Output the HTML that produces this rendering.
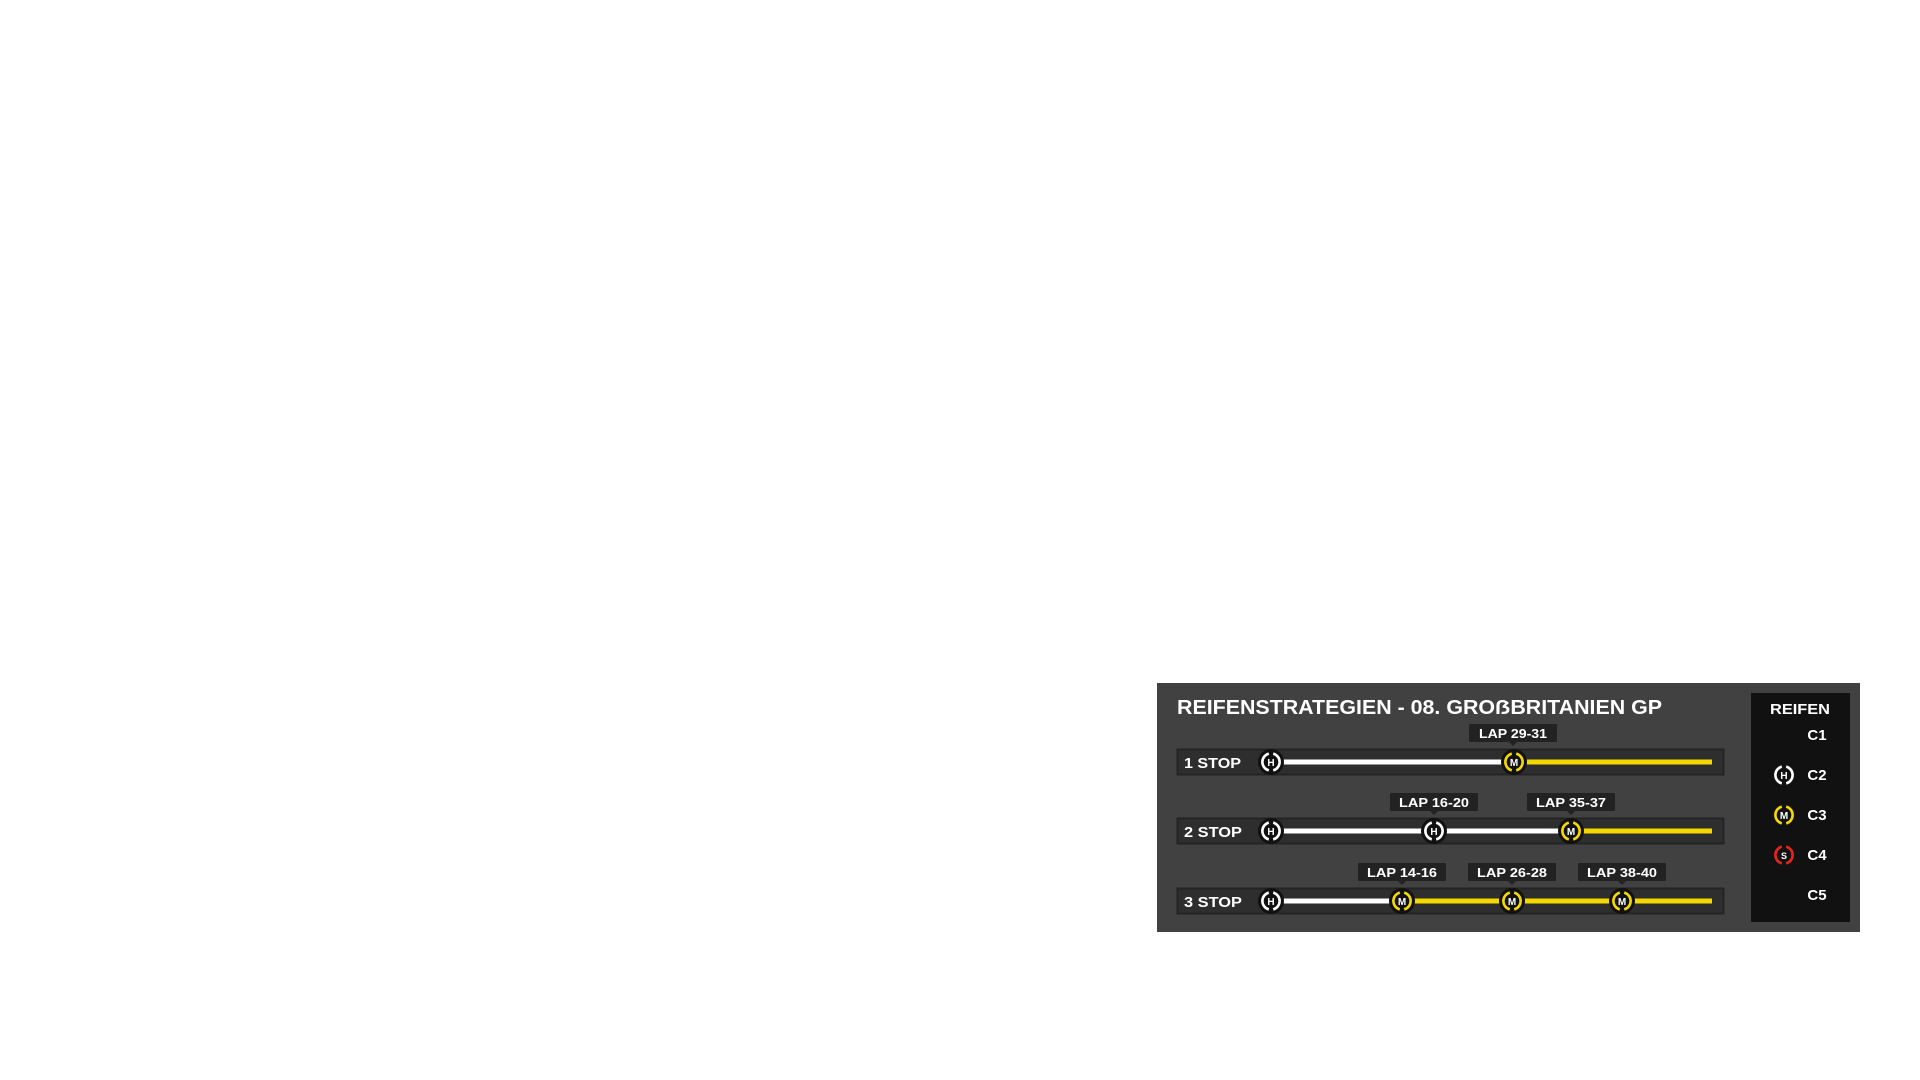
<!DOCTYPE html>
<html><head><meta charset="utf-8"><style>html,body{margin:0;padding:0;background:#fff;width:1920px;height:1080px;overflow:hidden}</style></head>
<body>
<svg width="1920" height="1080" viewBox="0 0 1920 1080" xmlns="http://www.w3.org/2000/svg" font-family="Liberation Sans, sans-serif" font-weight="bold">
<defs>
<g id="tH"><circle r="13" fill="#111"/><path d="M-2.2,-8.4 A8.7,8.7 0 0 0 -2.2,8.4 M2.2,-8.4 A8.7,8.7 0 0 1 2.2,8.4" fill="none" stroke="#fff" stroke-width="2.6"/><text y="4" text-anchor="middle" font-size="10" fill="#fff">H</text></g>
<g id="tM"><circle r="13" fill="#111"/><path d="M-2.2,-8.4 A8.7,8.7 0 0 0 -2.2,8.4 M2.2,-8.4 A8.7,8.7 0 0 1 2.2,8.4" fill="none" stroke="#f5d800" stroke-width="2.6"/><text y="4" text-anchor="middle" font-size="10" fill="#fff">M</text></g>
<g id="tS"><circle r="13" fill="#111"/><path d="M-2.2,-8.4 A8.7,8.7 0 0 0 -2.2,8.4 M2.2,-8.4 A8.7,8.7 0 0 1 2.2,8.4" fill="none" stroke="#e8231b" stroke-width="2.6"/><text y="4" text-anchor="middle" font-size="9" fill="#fff">S</text></g>
<g id="tag"><rect x="-44" y="-9" width="88" height="18" rx="1" fill="#222"/><path d="M-4,9 L4,9 L0,13 Z" fill="#222"/></g>
</defs>
<rect x="1157" y="683" width="703" height="249" fill="#414141"/>
<rect x="1751" y="693" width="99" height="229" fill="#111"/>
<text x="1177" y="714" font-size="20" fill="#fff" textLength="485" lengthAdjust="spacingAndGlyphs">REIFENSTRATEGIEN - 08. GROẞBRITANIEN GP</text>

<rect x="1177.5" y="749.5" width="546" height="25" fill="#2e2e2e" stroke="#242424" stroke-width="2"/>
<text x="1184" y="768" font-size="15" fill="#fff" textLength="57" lengthAdjust="spacingAndGlyphs">1 STOP</text>
<line x1="1283" y1="762" x2="1513" y2="762" stroke="#fff" stroke-width="5"/>
<line x1="1513" y1="762" x2="1712" y2="762" stroke="#f5d800" stroke-width="5"/>
<use href="#tH" x="1271" y="762"/><use href="#tM" x="1514" y="762"/>
<use href="#tag" x="1513" y="733"/><text x="1513" y="738" font-size="13" fill="#fff" text-anchor="middle" textLength="68" lengthAdjust="spacingAndGlyphs">LAP 29-31</text>

<rect x="1177.5" y="818.5" width="546" height="25" fill="#2e2e2e" stroke="#242424" stroke-width="2"/>
<text x="1184" y="837" font-size="15" fill="#fff" textLength="58" lengthAdjust="spacingAndGlyphs">2 STOP</text>
<line x1="1283" y1="831" x2="1571" y2="831" stroke="#fff" stroke-width="5"/>
<line x1="1571" y1="831" x2="1712" y2="831" stroke="#f5d800" stroke-width="5"/>
<use href="#tH" x="1271" y="831"/><use href="#tH" x="1434" y="831"/><use href="#tM" x="1571" y="831"/>
<use href="#tag" x="1434" y="802"/><text x="1434" y="807" font-size="13" fill="#fff" text-anchor="middle" textLength="70" lengthAdjust="spacingAndGlyphs">LAP 16-20</text>
<use href="#tag" x="1571" y="802"/><text x="1571" y="807" font-size="13" fill="#fff" text-anchor="middle" textLength="70" lengthAdjust="spacingAndGlyphs">LAP 35-37</text>

<rect x="1177.5" y="888.5" width="546" height="25" fill="#2e2e2e" stroke="#242424" stroke-width="2"/>
<text x="1184" y="907" font-size="15" fill="#fff" textLength="58" lengthAdjust="spacingAndGlyphs">3 STOP</text>
<line x1="1283" y1="901" x2="1402" y2="901" stroke="#fff" stroke-width="5"/>
<line x1="1402" y1="901" x2="1712" y2="901" stroke="#f5d800" stroke-width="5"/>
<use href="#tH" x="1271" y="901"/><use href="#tM" x="1402" y="901"/><use href="#tM" x="1512" y="901"/><use href="#tM" x="1622" y="901"/>
<use href="#tag" x="1402" y="872"/><text x="1402" y="877" font-size="13" fill="#fff" text-anchor="middle" textLength="70" lengthAdjust="spacingAndGlyphs">LAP 14-16</text>
<use href="#tag" x="1512" y="872"/><text x="1512" y="877" font-size="13" fill="#fff" text-anchor="middle" textLength="70" lengthAdjust="spacingAndGlyphs">LAP 26-28</text>
<use href="#tag" x="1622" y="872"/><text x="1622" y="877" font-size="13" fill="#fff" text-anchor="middle" textLength="70" lengthAdjust="spacingAndGlyphs">LAP 38-40</text>

<text x="1800" y="714" font-size="15" fill="#fff" text-anchor="middle" textLength="60" lengthAdjust="spacingAndGlyphs">REIFEN</text>
<text x="1817" y="740" font-size="15" fill="#fff" text-anchor="middle">C1</text>
<use href="#tH" x="1784" y="775"/><text x="1817" y="780" font-size="15" fill="#fff" text-anchor="middle">C2</text>
<use href="#tM" x="1784" y="815"/><text x="1817" y="820" font-size="15" fill="#fff" text-anchor="middle">C3</text>
<use href="#tS" x="1784" y="855"/><text x="1817" y="860" font-size="15" fill="#fff" text-anchor="middle">C4</text>
<text x="1817" y="900" font-size="15" fill="#fff" text-anchor="middle">C5</text>
</svg>
</body></html>
